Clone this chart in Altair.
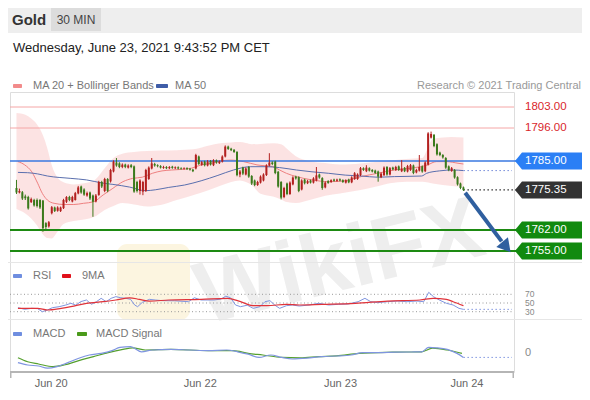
import altair as alt
import pandas as pd

# ---------------- data ----------------
opens = [1776.0, 1774.5, 1774.6, 1773.2, 1773.0, 1771.3, 1772.0, 1772.0, 1772.0, 1771.8,
         1764.3, 1763.2, 1767.6, 1769.5, 1768.4, 1768.3, 1769.3, 1771.4, 1773.0, 1771.5,
         1772.0, 1774.2, 1776.5, 1775.5, 1773.5, 1774.5, 1773.5, 1771.5, 1773.7, 1778.0,
         1775.0, 1779.0, 1778.2, 1781.5, 1784.5, 1784.2, 1783.0, 1783.8, 1782.8, 1783.6,
         1783.2, 1778.0, 1775.0, 1774.8, 1775.0, 1779.0, 1782.5, 1784.0, 1783.6, 1783.3,
         1782.7, 1783.0, 1782.6, 1783.1, 1782.6, 1782.9, 1782.6, 1782.4, 1782.6, 1782.4,
         1782.1, 1782.5, 1786.5, 1783.7, 1784.8, 1783.5, 1785.0, 1783.6, 1785.2, 1784.3,
         1784.8, 1786.5, 1789.8, 1789.1, 1788.7, 1788.0, 1780.5, 1782.8, 1780.5, 1783.0,
         1780.0, 1778.5, 1777.0, 1777.8, 1778.5, 1780.3, 1783.5, 1784.5, 1784.8, 1781.4,
         1778.0, 1773.0, 1777.5, 1774.0, 1777.2, 1779.8, 1779.6, 1775.5, 1778.8, 1777.6,
         1778.5, 1777.8, 1778.5, 1780.5, 1779.3, 1776.2, 1778.3, 1778.0, 1778.8, 1778.4,
         1778.9, 1778.6, 1777.8, 1778.8, 1777.9, 1779.0, 1779.0, 1780.3, 1782.6, 1781.6,
         1782.6, 1782.0, 1781.8, 1781.5, 1779.6, 1780.3, 1783.0, 1780.5, 1782.8, 1782.0,
         1783.2, 1781.6, 1782.7, 1781.5, 1782.0, 1783.5, 1781.2, 1781.8, 1783.2, 1781.6,
         1783.8, 1792.8, 1793.7, 1790.6, 1787.8, 1787.0, 1786.0, 1783.2, 1781.7, 1782.0,
         1779.6, 1777.5, 1776.2]
closes = [1774.5, 1775.0, 1772.5, 1772.6, 1769.2, 1772.3, 1770.2, 1770.0, 1769.5, 1762.6,
          1763.0, 1764.6, 1769.6, 1768.3, 1769.5, 1769.5, 1772.0, 1773.0, 1772.0, 1773.0,
          1774.3, 1776.2, 1774.5, 1773.8, 1774.3, 1772.5, 1771.4, 1773.5, 1778.0, 1776.5,
          1779.0, 1775.0, 1782.0, 1784.8, 1783.5, 1783.0, 1783.8, 1783.0, 1783.5, 1783.0,
          1774.8, 1775.0, 1778.5, 1778.0, 1782.0, 1782.8, 1784.2, 1783.5, 1783.3, 1782.8,
          1783.0, 1782.6, 1783.0, 1782.7, 1782.9, 1782.5, 1782.4, 1782.6, 1782.3, 1782.1,
          1781.6, 1787.0, 1784.0, 1784.6, 1783.6, 1784.8, 1783.8, 1785.2, 1784.5, 1784.8,
          1786.5, 1789.8, 1789.0, 1788.6, 1788.0, 1780.3, 1781.5, 1780.8, 1782.5, 1779.8,
          1777.5, 1777.0, 1778.0, 1779.8, 1780.5, 1783.5, 1784.5, 1784.0, 1781.0, 1776.5,
          1772.8, 1776.0, 1774.0, 1777.8, 1779.5, 1779.2, 1775.0, 1778.5, 1777.6, 1778.3,
          1777.8, 1779.2, 1780.2, 1779.5, 1776.0, 1777.8, 1777.7, 1778.6, 1778.4, 1778.8,
          1778.5, 1778.0, 1778.6, 1777.9, 1779.5, 1780.9, 1780.5, 1782.6, 1782.0, 1782.8,
          1781.8, 1781.5, 1781.0, 1779.8, 1780.8, 1782.8, 1780.5, 1782.6, 1782.2, 1783.0,
          1782.0, 1782.5, 1781.6, 1783.3, 1783.6, 1781.0, 1782.0, 1783.0, 1781.5, 1784.5,
          1794.2, 1794.0, 1790.0, 1787.2, 1787.0, 1786.2, 1782.8, 1782.0, 1782.6, 1779.5,
          1777.2, 1776.0, 1775.35]
highs = [1778.7, 1775.8, 1775.0, 1773.8, 1773.4, 1772.8, 1772.4, 1772.5, 1772.3, 1772.0,
         1764.6, 1765.0, 1770.0, 1769.8, 1769.9, 1769.8, 1772.4, 1773.3, 1773.4, 1773.4,
         1774.7, 1776.7, 1776.8, 1775.9, 1774.8, 1774.8, 1773.8, 1774.0, 1778.4, 1778.4,
         1779.4, 1779.3, 1782.4, 1785.2, 1786.0, 1784.6, 1784.2, 1784.1, 1783.9, 1784.0,
         1783.5, 1778.4, 1778.9, 1778.4, 1782.4, 1783.2, 1786.0, 1784.4, 1783.9, 1783.6,
         1783.4, 1783.3, 1783.3, 1783.4, 1783.2, 1783.2, 1782.9, 1782.9, 1782.9, 1782.7,
         1782.4, 1787.4, 1786.8, 1785.0, 1785.1, 1785.3, 1785.3, 1785.6, 1785.5, 1785.2,
         1786.9, 1790.2, 1790.1, 1789.4, 1789.0, 1788.3, 1782.0, 1783.1, 1782.9, 1783.3,
         1780.3, 1778.8, 1778.4, 1780.2, 1780.9, 1783.9, 1787.6, 1784.9, 1785.1, 1781.7,
         1778.3, 1776.4, 1777.8, 1778.2, 1779.9, 1780.1, 1779.9, 1778.9, 1779.1, 1778.7,
         1778.8, 1779.6, 1783.0, 1780.8, 1779.6, 1778.2, 1778.6, 1778.9, 1779.1, 1779.1,
         1779.2, 1778.9, 1778.9, 1779.1, 1779.9, 1781.3, 1780.9, 1783.0, 1782.9, 1783.6,
         1782.9, 1782.3, 1782.1, 1781.8, 1781.2, 1783.2, 1783.3, 1783.0, 1783.1, 1783.4,
         1783.5, 1785.3, 1783.0, 1783.7, 1784.0, 1783.8, 1782.4, 1787.0, 1783.5, 1784.9,
         1794.6, 1794.8, 1794.0, 1790.9, 1788.1, 1787.3, 1786.3, 1783.5, 1783.0, 1782.3,
         1779.9, 1777.8, 1776.5]
lows = [1774.0, 1774.2, 1772.0, 1772.0, 1768.8, 1771.0, 1769.8, 1769.5, 1769.0, 1761.4,
        1762.2, 1762.8, 1767.2, 1768.0, 1768.1, 1768.0, 1769.0, 1771.0, 1771.6, 1771.2,
        1771.8, 1773.9, 1774.1, 1773.4, 1773.1, 1772.0, 1766.4, 1771.2, 1773.4, 1776.0,
        1774.6, 1774.6, 1777.8, 1781.2, 1783.1, 1782.6, 1782.6, 1782.6, 1782.5, 1782.6,
        1774.4, 1774.5, 1773.8, 1773.6, 1774.7, 1778.7, 1782.2, 1783.1, 1782.9, 1782.5,
        1782.4, 1782.3, 1782.3, 1782.4, 1782.3, 1782.2, 1782.1, 1782.1, 1782.0, 1781.8,
        1781.3, 1782.2, 1783.7, 1783.4, 1783.2, 1783.2, 1783.5, 1783.3, 1784.1, 1784.0,
        1784.5, 1786.2, 1788.7, 1788.3, 1787.7, 1779.9, 1779.6, 1780.3, 1780.2, 1779.4,
        1777.0, 1776.6, 1776.7, 1777.5, 1778.2, 1780.0, 1783.2, 1783.6, 1780.6, 1776.1,
        1772.2, 1772.6, 1773.6, 1773.7, 1776.9, 1778.8, 1774.6, 1775.2, 1777.2, 1777.3,
        1777.5, 1777.5, 1778.2, 1779.1, 1775.4, 1775.9, 1777.4, 1777.7, 1778.1, 1778.1,
        1778.2, 1777.7, 1777.5, 1777.6, 1777.6, 1778.7, 1778.7, 1780.0, 1781.7, 1781.3,
        1781.5, 1781.2, 1780.7, 1778.1, 1779.3, 1780.0, 1780.1, 1780.2, 1781.9, 1781.7,
        1781.7, 1781.3, 1781.3, 1781.2, 1781.7, 1780.6, 1780.9, 1781.5, 1781.1, 1781.3,
        1783.5, 1792.5, 1789.6, 1786.8, 1786.6, 1785.8, 1782.4, 1781.6, 1781.4, 1779.1,
        1776.8, 1775.6, 1775.0]

band_idx = [0, 3, 5, 7, 9, 10.5, 12, 14, 16, 19.5, 23, 26.5, 30, 33, 36, 40, 44.5, 49,
            54.5, 60, 65.5, 70, 73, 76, 78, 80, 83, 87.5, 90, 92, 95, 100, 105, 110, 117,
            122, 127, 132.5, 138, 140, 141.5, 145, 148, 152]
band_upper = [1801.0, 1800.4, 1799.2, 1797.2, 1793.6, 1789.2, 1783.6, 1779.4, 1777.9,
              1777.2, 1777.6, 1778.6, 1782.6, 1786.0, 1787.4, 1788.0, 1788.3, 1788.5,
              1788.6, 1788.9, 1790.2, 1791.0, 1791.2, 1791.3, 1791.0, 1790.6, 1790.7,
              1790.9, 1790.6, 1789.1, 1786.6, 1784.9, 1784.3, 1783.8, 1784.2, 1784.7,
              1785.2, 1785.7, 1786.0, 1789.5, 1792.3, 1792.8, 1793.0, 1792.8]
band_lower = [1769.0, 1767.5, 1765.8, 1763.5, 1760.5, 1759.3, 1759.2, 1761.5, 1764.0,
              1765.0, 1765.5, 1766.4, 1768.7, 1770.0, 1771.0, 1770.5, 1769.8, 1770.3,
              1772.0, 1773.6, 1775.3, 1777.0, 1778.0, 1778.5, 1778.0, 1777.0, 1774.1,
              1773.1, 1772.2, 1771.3, 1771.0, 1772.1, 1773.4, 1774.2, 1775.3, 1776.4,
              1777.6, 1778.1, 1778.1, 1777.8, 1777.5, 1777.0, 1776.7, 1776.3]

ma20_idx = [0.5, 2.8, 5.2, 7.2, 8.8, 10.5, 12.8, 16.2, 19.5, 22.8, 26.2, 29.5, 32.8, 36.2,
            39.5, 42.8, 46.2, 49.5, 52.8, 56.2, 59.5, 62.8, 66.2, 69.5, 72.8, 77.2, 81.8,
            87.2, 89.5, 91.8, 95.2, 100.5, 106.2, 111.8, 117.2, 122.8, 128.5, 134.2, 139.8,
            142.8, 146.2, 150.5, 152]
ma20_val = [1784.8, 1783.7, 1781.4, 1777.6, 1774.2, 1772.0, 1770.9, 1770.5, 1770.5, 1770.9,
            1771.4, 1773.7, 1775.9, 1778.1, 1779.2, 1779.6, 1780.9, 1781.7, 1782.0, 1782.2,
            1782.6, 1783.7, 1784.2, 1785.0, 1785.3, 1784.8, 1783.7, 1783.1, 1782.0, 1780.9,
            1779.8, 1778.7, 1778.1, 1778.4, 1779.8, 1780.9, 1782.0, 1782.6, 1783.7, 1784.8,
            1784.8, 1784.2, 1784.0]

ma50_idx = [0.5, 3.8, 7.2, 10.5, 18.5, 23.8, 29.5, 32.8, 38.5, 43.8, 47.2, 51.8, 57.2, 62.8,
            68.5, 73.8, 79.5, 84.8, 89.5, 95.2, 100.5, 106.2, 111.8, 117.2, 122.8, 128.5,
            137.8, 139.5, 143.8, 148.5, 152]
ma50_val = [1781.2, 1781.1, 1780.7, 1780.0, 1779.2, 1778.7, 1777.6, 1777.2, 1776.3, 1775.1,
            1775.4, 1776.2, 1777.0, 1778.4, 1780.2, 1782.0, 1783.1, 1783.1, 1782.8, 1782.0,
            1781.4, 1780.9, 1780.3, 1780.0, 1779.6, 1779.8, 1780.0, 1780.9, 1781.7, 1782.0,
            1781.8]

rsi_idx = [0.5, 2.8, 5.2, 7.2, 8.8, 10.5, 12.2, 14.5, 16.8, 18.5, 20.2, 21.8, 23.8, 25.5,
           27.2, 28.8, 30.5, 32.2, 33.8, 35.5, 37.2, 38.8, 40.2, 41.2, 42.8, 45.2, 47.2,
           49.5, 53.8, 58.5, 60.5, 62.8, 65.2, 67.2, 69.5, 71.2, 72.8, 74.5, 76.2, 78.5,
           80.5, 82.8, 84.5, 86.2, 87.8, 89.5, 91.8, 93.8, 96.2, 99.5, 102.8, 106.2, 109.5,
           112.8, 116.2, 118.5, 120.5, 122.8, 126.2, 129.5, 132.8, 136.2, 138.5, 140.2,
           141.8, 143.8, 146.2, 148.5, 150.5, 152]
rsi_val = [39.2, 35.5, 37.8, 37.0, 30.0, 33.9, 39.2, 41.5, 45.4, 49.3, 45.0, 53.0, 56.9,
           47.0, 53.0, 60.8, 53.0, 60.8, 64.6, 62.0, 60.8, 58.4, 45.4, 41.5, 51.5, 58.4,
           56.9, 55.4, 55.0, 53.0, 62.0, 56.9, 56.9, 56.9, 59.0, 65.6, 62.0, 45.4, 41.5,
           45.0, 37.7, 41.5, 53.0, 55.4, 45.4, 37.7, 43.8, 45.4, 43.0, 45.4, 49.3, 45.4,
           47.0, 47.7, 53.0, 60.8, 53.0, 51.0, 53.0, 54.5, 53.0, 54.5, 53.0, 74.6, 64.6,
           56.9, 49.3, 45.4, 37.7, 35.4]

rsima_idx = [0.5, 7.2, 10.5, 15.2, 18.5, 23.8, 29.5, 33.8, 38.5, 41.8, 45.2, 51.8, 62.8,
             71.8, 76.2, 80.5, 85.2, 91.8, 96.2, 103.8, 115.2, 126.2, 137.2, 141.8, 146.2,
             148.5, 152]
rsima_val = [37.7, 37.7, 33.9, 37.7, 41.5, 49.3, 53.0, 56.9, 62.0, 58.4, 54.5, 56.9, 58.4,
             60.8, 53.0, 43.8, 43.8, 46.9, 45.4, 46.9, 49.3, 54.5, 56.9, 60.8, 58.4, 53.0,
             43.8]

macd_idx = [0.5, 3.8, 7.5, 10.5, 13.8, 17.5, 21.2, 24.8, 28.8, 32.5, 35.2, 38.8, 42.5, 46.2,
            52.5, 58.8, 65.2, 71.5, 75.2, 78.8, 82.5, 86.5, 90.2, 93.8, 98.8, 103.8, 108.8,
            113.8, 117.8, 122.8, 128.8, 134.2, 137.8, 140.2, 142.8, 146.5, 149.8, 152]
macd_val = [-2.4, -3.0, -3.25, -3.8, -3.4, -2.4, -1.3, -0.5, -0.1, 0.6, 1.4, 1.6, 0.3, 0.75,
            0.9, 0.75, 0.6, 0.75, 0.3, -0.3, -1.1, -0.5, -1.1, -1.5, -1.3, -0.9, -0.75,
            -0.5, 0.1, 0.1, 0.2, 0.25, 0.3, 1.4, 1.3, 0.9, -0.1, -1.1]

sig_idx = [0.5, 3.8, 7.5, 12.5, 16.2, 21.2, 26.2, 31.2, 36.2, 39.5, 43.8, 52.5, 65.2, 73.8,
           78.8, 83.8, 90.2, 96.5, 102.8, 108.8, 116.5, 127.8, 137.8, 141.5, 146.5, 151.5]
sig_val = [-1.2, -2.2, -2.75, -3.4, -3.0, -1.9, -0.9, 0.1, 0.9, 1.3, 0.75, 0.9, 0.6, 0.6,
           -0.1, -0.5, -1.1, -1.2, -0.9, -0.7, -0.1, 0.2, 0.3, 1.2, 0.75, -0.1]

level_prices = [1803.0, 1796.0, 1785.0, 1775.35, 1762.0, 1755.0]
level_labels = ["1803.00", "1796.00", "1785.00", "1775.35", "1762.00", "1755.00"]
level_kinds = ["res", "res", "pivot", "last", "sup", "sup"]

rsi_levels = [70, 50, 30]
rsi_level_labels = ["70", "50", "30"]

date_tick_idx = [11.8, 62.5, 110.2, 153.2]
date_tick_labels = ["Jun 20", "Jun 22", "Jun 23", "Jun 24"]

arrow_idx = [152.6, 165.0]
arrow_price = [1774.4, 1758.2]
arrow_head_idx = [166.6]
arrow_head_price = [1756.3]

# ---------------- styling ----------------
FONT = "Liberation Sans"
RED = "#b3201f"
GREEN = "#3b7a1c"
W, H = 504, 280
last_i = len(closes) - 1

X = alt.Scale(domain=[-0.5, 167.5], nice=False, zero=False)
PY = alt.Scale(domain=[1714.667, 1808.0], nice=False, zero=False)
RY = alt.Scale(domain=[-108.62, 535.06], nice=False, zero=False)
MY = alt.Scale(domain=[-4.75, 65.25], nice=False, zero=False)


def xq(field="i"):
    return alt.X(f"{field}:Q", scale=X, axis=None)


def yq(field, scale):
    return alt.Y(f"{field}:Q", scale=scale, axis=None)


candles = pd.DataFrame({"i": list(range(len(closes))), "o": opens, "h": highs,
                        "l": lows, "c": closes})
band = pd.DataFrame({"i": band_idx, "up": band_upper, "lo": band_lower})
ma20 = pd.DataFrame({"i": ma20_idx, "v": ma20_val})
ma50 = pd.DataFrame({"i": ma50_idx, "v": ma50_val})
rsi = pd.DataFrame({"i": rsi_idx, "v": rsi_val})
rsima = pd.DataFrame({"i": rsima_idx, "v": rsima_val})
macd = pd.DataFrame({"i": macd_idx, "v": macd_val})
sig = pd.DataFrame({"i": sig_idx, "v": sig_val})
levels = pd.DataFrame({"p": level_prices, "lab": level_labels, "kind": level_kinds})
rlev = pd.DataFrame({"r": rsi_levels, "lab": rsi_level_labels})
ticks = pd.DataFrame({"i": date_tick_idx, "lab": date_tick_labels})
arrow = pd.DataFrame({"i": arrow_idx, "p": arrow_price})
arrow_head = pd.DataFrame({"i": arrow_head_idx, "p": arrow_head_price})
one = pd.DataFrame({"d": [0]})

layers = []


def deco_rect(x, x2, y, y2, color, **kw):
    return alt.Chart(one).mark_rect(color=color, **kw).encode(
        x=alt.value(x), x2=alt.value(x2), y=alt.value(y), y2=alt.value(y2))


def deco_text(txt, x, y, size=11, color="#777", align="left", weight="normal", **kw):
    return alt.Chart(one).mark_text(text=txt, fontSize=size, color=color, align=align,
                                    baseline="middle", font=FONT, fontWeight=weight,
                                    **kw).encode(x=alt.value(x), y=alt.value(y))


# watermark
layers.append(deco_rect(107, 180, 152, 228, "#fcf5e0", cornerRadius=10))
layers.append(deco_text("WikiFX", 330, 172, size=88, color="#eeeeee", align="center",
                        weight="bold", angle=346))

# header
layers.append(deco_rect(-2, 572, -84, -59, "#eeeeee"))
layers.append(deco_rect(41, 91, -84, -61, "#dcdcdc"))
layers.append(deco_text("Gold", 2, -72, size=15, color="#333", weight="bold"))
layers.append(deco_text("30 MIN", 66, -72, size=12, color="#444", align="center"))
layers.append(deco_text("Wednesday, June 23, 2021 9:43:52 PM CET", 3, -44, size=13,
                        color="#222"))

# legends
layers.append(deco_rect(3, 12, -8, -4, "#f28b8b", cornerRadius=1))
layers.append(deco_text("MA 20 + Bollinger Bands", 23, -6))
layers.append(deco_rect(146, 158, -8, -4, "#3f5da8", cornerRadius=1))
layers.append(deco_text("MA 50", 165, -6))
layers.append(deco_text("Research \u00a9 2021 Trading Central", 571, -6, color="#999",
                        align="right"))

# panel separators
layers.append(deco_rect(-2, 572, 170, 171, "#e6e6e6"))
layers.append(deco_rect(-2, 572, 227, 228, "#e6e6e6"))

# bollinger band
layers.append(alt.Chart(band).mark_area(color="#fcdede", opacity=0.85,
                                        interpolate="monotone").encode(
    x=xq(), y=yq("up", PY), y2="lo:Q"))

# MA lines
layers.append(alt.Chart(ma20).mark_line(color="#ee8080", strokeWidth=1,
                                        interpolate="monotone").encode(
    x=xq(), y=yq("v", PY)))
layers.append(alt.Chart(ma50).mark_line(color="#5a6fae", strokeWidth=1,
                                        interpolate="monotone").encode(
    x=xq(), y=yq("v", PY)))

# horizontal levels
lv = alt.Chart(levels)
layers.append(lv.transform_filter("datum.kind == 'res'").mark_rule(
    color="#f5a6a6", strokeWidth=1).encode(y=yq("p", PY), x=alt.value(0), x2=alt.value(W)))
layers.append(lv.transform_filter("datum.kind == 'pivot'").mark_rule(
    color="#3a79e0", strokeWidth=1.3).encode(y=yq("p", PY), x=alt.value(0),
                                               x2=alt.value(W + 2)))
layers.append(lv.transform_filter("datum.kind == 'sup'").mark_rule(
    color="#1d8a12", strokeWidth=2).encode(y=yq("p", PY), x=alt.value(0),
                                             x2=alt.value(W + 2)))

# dotted extensions at right
last_df = pd.DataFrame({"i": [last_i], "p": [closes[-1]], "m50": [ma50_val[-1]],
                        "r": [rsi_val[-1]], "m": [macd_val[-1]]})
ld = alt.Chart(last_df)
layers.append(ld.mark_rule(color="#333", strokeDash=[1.5, 2.5], strokeWidth=1.2).encode(
    x=xq(), x2=alt.value(W + 2), y=yq("p", PY)))
layers.append(ld.mark_rule(color="#6f86d8", strokeDash=[1.5, 2.5], strokeWidth=1).encode(
    x=xq(), x2=alt.value(W - 2), y=yq("m50", PY)))
layers.append(ld.mark_rule(color="#7f95e0", strokeDash=[1.5, 2.5], strokeWidth=1).encode(
    x=xq(), x2=alt.value(W - 2), y=yq("r", RY)))
layers.append(ld.mark_rule(color="#7f95e0", strokeDash=[1.5, 2.5], strokeWidth=1).encode(
    x=xq(), x2=alt.value(W - 2), y=yq("m", MY)))

# candles
cc = alt.Chart(candles)
col = alt.condition("datum.c >= datum.o", alt.value(RED), alt.value(GREEN))
layers.append(cc.mark_rule(strokeWidth=1).encode(x=xq(), y=yq("l", PY), y2="h:Q",
                                                 color=col))
layers.append(cc.mark_bar(width=2).encode(x=xq(), y=yq("o", PY), y2="c:Q", color=col))

# arrow
layers.append(alt.Chart(arrow).mark_line(color="#2f5f9f", strokeWidth=4,
                                         strokeCap="butt").encode(x=xq(), y=yq("p", PY)))
layers.append(alt.Chart(arrow_head).mark_point(shape="triangle-up", size=230, filled=True,
                                               opacity=1, color="#2f5f9f",
                                               angle=140).encode(x=xq(), y=yq("p", PY)))

# level label boxes
box_path = "M0,0 L7,-8.5 L67,-8.5 L67,8.5 L7,8.5 Z"
box_colors = alt.Color("kind:N", scale=alt.Scale(domain=["pivot", "last", "sup"],
                                                 range=["#2b7ff5", "#333333", "#118a0f"]),
                       legend=None)
layers.append(lv.transform_filter("datum.kind != 'res'").mark_point(
    shape=box_path, size=4, filled=True, opacity=1, strokeWidth=0).encode(
    x=alt.value(W + 1), y=yq("p", PY), color=box_colors))
layers.append(lv.transform_filter("datum.kind != 'res'").mark_text(
    align="left", baseline="middle", fontSize=11.5, font=FONT, color="white").encode(
    x=alt.value(W + 11), y=yq("p", PY), text="lab:N"))
layers.append(lv.transform_filter("datum.kind == 'res'").mark_text(
    align="left", baseline="middle", fontSize=11.5, font=FONT, color="#d9262b").encode(
    x=alt.value(W + 11), y=yq("p", PY), text="lab:N"))

# RSI panel
layers.append(deco_rect(3, 12, 182, 186, "#6f8ee0", cornerRadius=1))
layers.append(deco_text("RSI", 23, 184))
layers.append(deco_rect(52, 61, 182, 186, "#e0101a", cornerRadius=1))
layers.append(deco_text("9MA", 72, 184))
rl = alt.Chart(rlev)
layers.append(rl.mark_rule(color="#999", strokeDash=[1, 2.5], strokeWidth=1).encode(
    y=yq("r", RY), x=alt.value(0), x2=alt.value(W)))
layers.append(rl.mark_text(align="left", baseline="middle", fontSize=8.5, font=FONT,
                           color="#888").encode(x=alt.value(W + 11), y=yq("r", RY),
                                                text="lab:N"))
layers.append(alt.Chart(rsi).mark_line(color="#7f95e0", strokeWidth=1).encode(
    x=xq(), y=yq("v", RY)))
layers.append(alt.Chart(rsima).mark_line(color="#e0333a", strokeWidth=1.2,
                                         interpolate="monotone").encode(
    x=xq(), y=yq("v", RY)))

# MACD panel
layers.append(deco_rect(3, 12, 240, 244, "#6f8ee0", cornerRadius=1))
layers.append(deco_text("MACD", 23, 242))
layers.append(deco_rect(67, 77, 240, 244, "#4a9a1a", cornerRadius=1))
layers.append(deco_text("MACD Signal", 86, 242))
layers.append(alt.Chart(pd.DataFrame({"m": [0], "lab": ["0"]})).mark_text(
    align="left", baseline="middle", fontSize=11, font=FONT, color="#888").encode(
    x=alt.value(W + 11), y=yq("m", MY), text="lab:N"))
layers.append(alt.Chart(sig).mark_line(color="#55a02e", strokeWidth=1.2,
                                       interpolate="monotone").encode(
    x=xq(), y=yq("v", MY)))
layers.append(alt.Chart(macd).mark_line(color="#7f95e0", strokeWidth=1.2,
                                        interpolate="monotone").encode(
    x=xq(), y=yq("v", MY)))

# x axis
layers.append(deco_rect(0, W, 279, 281, "#b5b5b5"))
layers.append(deco_rect(0, 1.5, 279, 286, "#b5b5b5"))
layers.append(deco_rect(W - 1.5, W, 279, 286, "#b5b5b5"))
layers.append(alt.Chart(ticks).mark_text(align="center", baseline="middle", fontSize=11,
                                         font=FONT, color="#666").encode(
    x=xq(), y=alt.value(292), text="lab:N"))

chart = alt.layer(*layers).resolve_scale(y="independent").properties(
    width=W, height=H,
    padding={"left": 2, "top": 84, "right": 68, "bottom": 19},
    autosize=alt.AutoSizeParams(type="none"),
).configure_view(stroke=None).configure(background="white")

chart.save("out.html", embed_options={"renderer": "svg", "actions": False})
